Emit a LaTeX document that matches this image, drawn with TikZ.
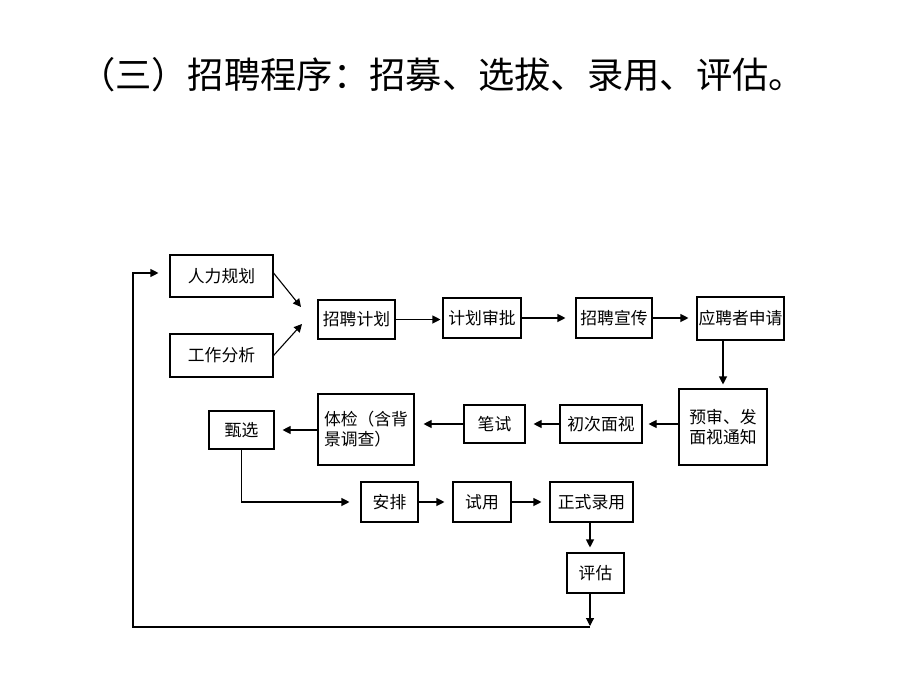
\documentclass[tikz,border=0pt]{standalone}
\usepackage{fontspec}
\setmainfont{Noto Sans CJK SC}
\usetikzlibrary{arrows.meta,calc}
\tikzset{
  box/.style={draw=black, line width=1.1pt, inner sep=1pt, align=left,
    font=\fontsize{16.8}{20}\selectfont},
  flow/.style={line width=1.1pt, -{Triangle[length=8pt,width=8pt]}},
  plain/.style={line width=1.1pt}
}
\begin{document}
\begin{tikzpicture}[x=1pt,y=-1pt]
\useasboundingbox[fill=white] (0,0) rectangle (920,690);
\node (title) at (442,75) {\fontsize{36.3}{42}\selectfont （三）招聘程序：招募、选拔、录用、评估。};
% boxes
\node[box, minimum width=103pt, minimum height=42pt] (hr) at (221.5,276) {人力规划};
\node[box, minimum width=103pt, minimum height=43pt] (ja) at (221.5,355.5) {工作分析};
\node[box, minimum width=77pt, minimum height=39pt] (plan) at (356.5,319.5) {招聘计划};
\node[box, minimum width=78pt, minimum height=40pt] (appr) at (482,318) {计划审批};
\node[box, minimum width=76pt, minimum height=40pt] (pub) at (614,318) {招聘宣传};
\node[box, minimum width=87pt, minimum height=43pt] (apply) at (740.5,318.5) {应聘者申请};
\node[box, minimum width=88pt, minimum height=76pt] (pre) at (723,427) {预审、发\\面视通知};
\node[box, minimum width=82pt, minimum height=38pt] (int1) at (601,424) {初次面视};
\node[box, minimum width=61pt, minimum height=38pt] (test) at (494.5,424) {笔试};
\node[box, minimum width=96pt, minimum height=71pt] (phys) at (366,429.5) {体检（含背\\景调查）};
\node[box, minimum width=65pt, minimum height=38pt] (sel) at (241.5,430) {甄选};
\node[box, minimum width=57pt, minimum height=40pt] (arr) at (389.5,502) {安排};
\node[box, minimum width=58pt, minimum height=40pt] (trial) at (482,502) {试用};
\node[box, minimum width=83pt, minimum height=40pt] (hire) at (591.5,502) {正式录用};
\node[box, minimum width=57pt, minimum height=40pt] (eval) at (595.5,573) {评估};
% free ends
\coordinate (p1) at (301,307);
\coordinate (p2) at (302,324);
\coordinate (bl) at (133,627);
\coordinate (tl) at (133,273);
\coordinate (br) at (590,627);
% connectors
\draw[flow] ([yshift=3pt]hr.east) -- (p1);
\draw[flow] (ja.east) -- (p2);
\draw[flow, shorten >=2pt] (plan.east) -- (plan.east -| appr.west);
\draw[flow, shorten >=10pt] (appr.east) -- (appr.east -| pub.west);
\draw[flow, shorten >=8pt] (pub.east) -- (pub.east -| apply.west);
\draw[flow, shorten >=4pt] (apply.south -| pre.north) -- (pre.north);
\draw[flow, shorten >=6pt] (pre.west |- int1.east) -- (int1.east);
\draw[flow, shorten >=8pt] (int1.west) -- (test.east);
\draw[flow, shorten >=9pt] (test.west) -- (test.west -| phys.east);
\draw[flow, shorten >=8pt] (phys.west |- sel.east) -- (sel.east);
\draw[flow, shorten >=11pt] (sel.south) |- (arr.west);
\draw[flow, shorten >=8pt] (arr.east) -- (trial.west);
\draw[flow, shorten >=8pt] (trial.east) -- (hire.west);
\draw[flow, shorten >=5pt] (hire.south -| br) -- (eval.north -| br);
\draw[flow, shorten >=1pt] (eval.south -| br) -- (br);
\draw[flow, shorten >=11pt] (br) -- (bl) -- (tl) -- (tl -| hr.west);
\end{tikzpicture}
\end{document}
